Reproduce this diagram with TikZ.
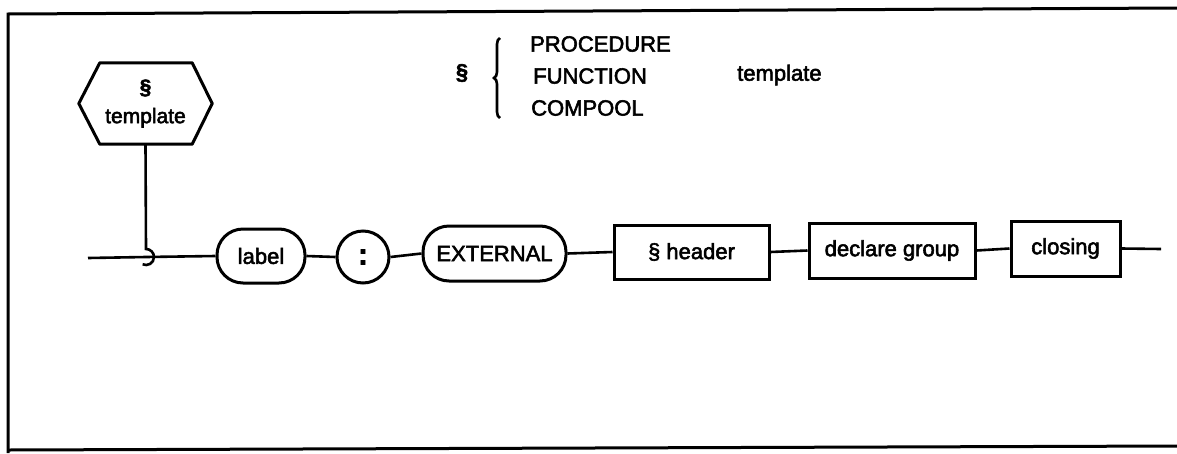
\documentclass[tikz,border=0pt]{standalone}
\usepackage{fontspec}
\setmainfont{Liberation Sans}[FakeBold=2.5]
\usetikzlibrary{decorations.pathreplacing}
\begin{document}
\begin{tikzpicture}[x=1pt,y=-1pt,
  every node/.style={font=\fontsize{22}{26}\selectfont},
  termbox/.style={draw, line width=3pt, rounded corners=26pt, inner sep=0pt},
  ntermbox/.style={draw, line width=3pt, inner sep=0pt},
  plain/.style={inner sep=0pt, anchor=west},
  conn/.style={line width=2.6pt}]
\useasboundingbox (0,0) rectangle (1177,453);
% frame
\draw[line width=3pt] (1177,8) -- (8,14) -- (8,453);
\draw[line width=3pt] (8,450) -- (1177,446);
% heading
\node[inner sep=0pt] (sect) at (462,73) {\textbf{§}};
\coordinate (bt) at (500,38);
\coordinate (bb) at (500,118);
\draw[line width=2.6pt, decorate, decoration={brace, amplitude=6pt}] (bb) -- (bt);
\node[plain] (proc) at (530,44) {PROCEDURE};
\node[plain] (func) at (533,76) {FUNCTION};
\node[plain] (comp) at (531,108) {COMPOOL};
\node[plain] (tmpl) at (737,75) {template};
% hexagon
\node[inner sep=0pt, minimum width=133pt, minimum height=81pt, align=center,
      font=\fontsize{21}{29}\selectfont] (hex) at (145.5,103.5) {\textbf{§}\\template};
\draw[line width=3pt, line join=round] (hex.west) -- ([xshift=21pt]hex.north west) -- ([xshift=-20pt]hex.north east)
  -- (hex.east) -- ([xshift=-20pt]hex.south east) -- ([xshift=21pt]hex.south west) -- cycle;
% main line nodes
\coordinate (start) at (88,258);
\coordinate (j) at (146,257);
\coordinate (jtop) at (146,249);
\node[termbox, minimum width=88pt, minimum height=54pt] (label) at (261,256) {label};
\node[draw, circle, line width=3pt, minimum size=52pt, inner sep=0pt,
      font=\fontsize{30}{30}\selectfont\bfseries] (colon) at (363,257) {:};
\node[termbox, minimum width=143pt, minimum height=55pt] (ext) at (494.5,253.5) {EXTERNAL};
\node[ntermbox, minimum width=155pt, minimum height=54pt] (hdr) at (691.5,252) {§ header};
\node[ntermbox, minimum width=166pt, minimum height=55pt] (decl) at (892,250.5) {declare group};
\node[ntermbox, minimum width=109pt, minimum height=55pt] (clos) at (1065.5,248.5) {closing};
\coordinate (end) at (1161,249);
% connectors
\draw[conn] (hex.south) -- (jtop) arc[start angle=90, end angle=-115, radius=8pt];
\draw[conn] (start) -- (j) -- (label.west);
\draw[conn] (label.east) -- (colon.west);
\draw[conn] (colon.east) -- (ext.west);
\draw[conn] (ext.east) -- (hdr.west);
\draw[conn] (hdr.east) -- (decl.west);
\draw[conn] (decl.east) -- (clos.west);
\draw[conn] (clos.east) -- (end);
\end{tikzpicture}
\end{document}
